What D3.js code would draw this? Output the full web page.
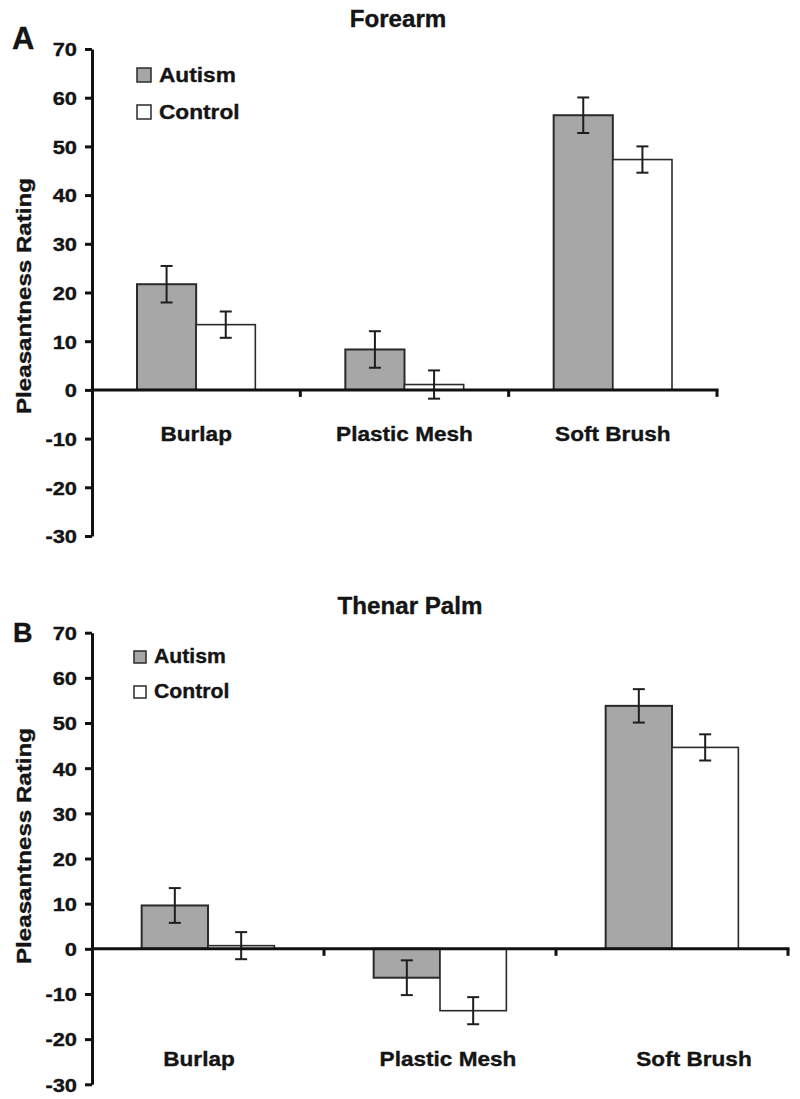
<!DOCTYPE html>
<html>
<head>
<meta charset="utf-8">
<script src="https://cdn.jsdelivr.net/npm/d3@7"></script>
<style>
  html, body { margin: 0; padding: 0; background: #fff; }
  svg { display: block; }
  text { font-family: "Liberation Sans", Arial, Helvetica, sans-serif; font-weight: bold; fill: #141414; stroke: #141414; stroke-width: 0.35px; }
</style>
</head>
<body>
<svg id="chart" width="800" height="1099"></svg>
<script>
// ---- data ----
const categories = ["Burlap", "Plastic Mesh", "Soft Brush"];
const groups = ["Autism", "Control"];
const yTicks = [70, 60, 50, 40, 30, 20, 10, 0, -10, -20, -30];

const forearmAutism = [21.7, 8.3, 56.4];
const forearmAutismSE = [3.75, 3.75, 3.65];
const forearmControl = [13.4, 1.1, 47.3];
const forearmControlSE = [2.7, 2.9, 2.7];

const palmAutism = [9.6, -6.4, 53.8];
const palmAutismSE = [3.85, 3.85, 3.7];
const palmControl = [0.7, -13.7, 44.6];
const palmControlSE = [3.0, 3.0, 2.9];

const svg = d3.select("#chart");

function label(g, x, y, str, size, sx, anchor, rot) {
  return g.append("text")
    .attr("transform", `translate(${x},${y}) rotate(${rot || 0}) scale(${sx},1)`)
    .attr("text-anchor", anchor || "middle")
    .style("font-size", size + "px")
    .text(str);
}

function panel(cfg) {
  const g = svg.append("g");
  const y = d3.scaleLinear().domain([-30, 70]).range([cfg.yBottom, cfg.yTop]);
  const x = d3.scaleBand().domain(categories).range([cfg.xLeft, cfg.xRight]).padding(0);
  const groupW = x.bandwidth() * cfg.groupFrac;
  const xs = d3.scaleBand().domain(groups).range([0, groupW]).padding(0);

  const rows = [];
  categories.forEach((c, i) => {
    rows.push({ c, grp: "Autism", v: cfg.autism[i], se: cfg.autismSE[i] });
    rows.push({ c, grp: "Control", v: cfg.control[i], se: cfg.controlSE[i] });
  });
  const bx = d => x(d.c) + x.bandwidth() / 2 - groupW / 2 + xs(d.grp);

  // bars
  g.selectAll("rect.bar").data(rows).enter().append("rect")
    .attr("class", "bar")
    .attr("x", bx)
    .attr("width", xs.bandwidth())
    .attr("y", d => y(Math.max(0, d.v)))
    .attr("height", d => Math.abs(y(d.v) - y(0)))
    .attr("fill", d => d.grp === "Autism" ? "#a7a7a7" : "#ffffff")
    .attr("stroke", "#2a2a2a")
    .attr("stroke-width", d => d.grp === "Autism" ? 2 : 1.6);

  // error bars
  const eb = g.selectAll("g.err").data(rows).enter().append("g").attr("class", "err")
    .attr("stroke", "#1e1e1e").attr("stroke-width", 2);
  const cx = d => bx(d) + xs.bandwidth() / 2;
  eb.append("line").attr("x1", cx).attr("x2", cx)
    .attr("y1", d => y(d.v + d.se)).attr("y2", d => y(d.v - d.se));
  eb.append("line").attr("x1", d => cx(d) - 6).attr("x2", d => cx(d) + 6)
    .attr("y1", d => y(d.v + d.se)).attr("y2", d => y(d.v + d.se));
  eb.append("line").attr("x1", d => cx(d) - 6).attr("x2", d => cx(d) + 6)
    .attr("y1", d => y(d.v - d.se)).attr("y2", d => y(d.v - d.se));

  // y axis
  const ya = g.append("g").attr("transform", `translate(${cfg.xLeft},0)`)
    .call(d3.axisLeft(y).tickValues(yTicks).tickSize(7).tickSizeOuter(0).tickFormat(d => String(d)));
  ya.select(".domain").attr("stroke", "#111").attr("stroke-width", 3);
  ya.selectAll(".tick line").attr("stroke", "#111").attr("stroke-width", 3);
  ya.selectAll(".tick text")
    .attr("x", null).attr("dy", "0.36em")
    .attr("transform", "translate(-15,0) scale(1.15,1)")
    .attr("text-anchor", "end")
    .attr("fill", "#141414")
    .style("font-size", "19px")
    .style("font-family", null);

  // x axis line at 0
  g.append("line")
    .attr("x1", cfg.xLeft).attr("x2", cfg.xRight + 1.5)
    .attr("y1", y(0)).attr("y2", y(0))
    .attr("stroke", "#111").attr("stroke-width", 3);
  g.selectAll("line.xtick").data(categories).enter().append("line")
    .attr("class", "xtick")
    .attr("x1", d => x(d) + x.step()).attr("x2", d => x(d) + x.step())
    .attr("y1", y(0)).attr("y2", y(0) + 7)
    .attr("stroke", "#111").attr("stroke-width", 3);

  // category labels
  categories.forEach((c, i) => {
    label(g, x(c) + x.bandwidth() / 2 + (cfg.labelDx[i] || 0), cfg.catY(y), c, 20, 1.13, "middle");
  });

  // title
  label(g, cfg.titleX, cfg.titleY, cfg.title, 23, 1.05, "middle");
  // panel letter
  label(g, cfg.letterX, cfg.letterY, cfg.letter, cfg.letterSize, 1.0, "start");
  // y label
  label(g, 31, cfg.yLabelY, "Pleasantness Rating", 21, 1.15, "middle", -90);

  // legend
  const lg = g.append("g");
  groups.forEach((grp, i) => {
    const ly = cfg.legY + i * cfg.legGap;
    lg.append("rect")
      .attr("x", cfg.legX).attr("y", ly - cfg.legBox)
      .attr("width", cfg.legBox).attr("height", cfg.legBox)
      .attr("fill", grp === "Autism" ? "#a7a7a7" : "#ffffff")
      .attr("stroke", "#2a2a2a").attr("stroke-width", 1.5);
    label(lg, cfg.legX + cfg.legBox + 8, ly, grp, cfg.legSize, cfg.legSx, "start");
  });
}

panel({
  yTop: 49, yBottom: 536, xLeft: 92, xRight: 717, groupFrac: 0.568,
  autism: forearmAutism, autismSE: forearmAutismSE,
  control: forearmControl, controlSE: forearmControlSE,
  catY: y => y(0) + 51, labelDx: [0, 0, 0],
  title: "Forearm", titleX: 398, titleY: 27,
  letter: "A", letterX: 12, letterY: 49, letterSize: 31,
  yLabelY: 296,
  legX: 137, legY: 82, legGap: 37, legBox: 14, legSize: 21, legSx: 1.08
});

panel({
  yTop: 632.7, yBottom: 1084.3, xLeft: 92, xRight: 788, groupFrac: 0.572,
  autism: palmAutism, autismSE: palmAutismSE,
  control: palmControl, controlSE: palmControlSE,
  catY: y => 1066, labelDx: [-9, 8, 22],
  title: "Thenar Palm", titleX: 410, titleY: 614,
  letter: "B", letterX: 13, letterY: 642, letterSize: 27,
  yLabelY: 846,
  legX: 134, legY: 663, legGap: 35, legBox: 12, legSize: 20, legSx: 1.06
});
</script>
</body>
</html>
